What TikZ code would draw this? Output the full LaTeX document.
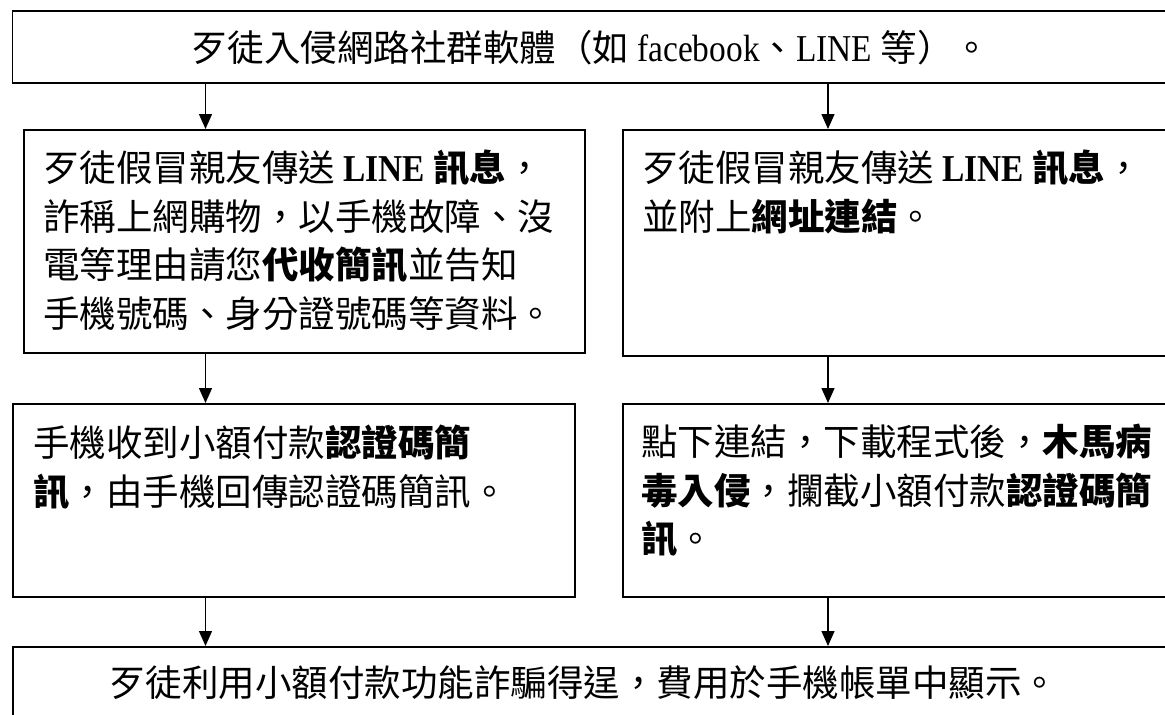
\documentclass[tikz,border=0pt]{standalone}
\usepackage{fontspec}
\setmainfont{Liberation Serif}[Scale=1.04,FakeStretch=0.88]
\newfontfamily\cjk{Noto Sans CJK TC}
\newcommand\lat[1]{{\rmfamily #1}}
\usetikzlibrary{arrows.meta}

\begin{document}
\begin{tikzpicture}[x=1pt,y=-1pt,
    box/.style={draw,line width=1.5pt,inner sep=0pt,anchor=north west},
    txt/.style={inner sep=0pt,anchor=base west,align=left,
      font=\cjk\fontsize{36.5}{48.5}\selectfont},
    arr/.style={line width=1.4pt,-{Triangle[width=13pt,length=15pt]}}]
      \useasboundingbox (0,0) rectangle (1165,715) ;
      \clip (0,0) rectangle (1165,715) ;
      \coordinate (lcol) at (205.5,0) ;
      \coordinate (rcol) at (828,0) ;
      % boxes
      \node[box,minimum width=1170,minimum height=72] (top) at (11.5,10) {} ;
      \node[box,minimum width=561,minimum height=223] (lmsg) at (23,129) {} ;
      \node[box,minimum width=560,minimum height=226] (rmsg) at (622,129) {} ;
      \node[box,minimum width=562,minimum height=193] (lcode) at (12,403) {} ;
      \node[box,minimum width=560,minimum height=193] (rtroj) at (622,403) {} ;
      \node[box,minimum width=1170,minimum height=100] (bill) at (12,646) {} ;
      % texts (anchored on the baseline of their last line)
      \node[txt] (top-t) at ([shift={(179.5,51.5)}]top.north west)
        {歹徒入侵網路社群軟體（如 \lat{facebook}、\lat{LINE} 等）。} ;
      \node[txt] (lmsg-t) at ([shift={(20,198)}]lmsg.north west)
        {歹徒假冒親友傳送 \textbf{\lat{LINE} 訊息}，\\
         詐稱上網購物，以手機故障、沒\\
         電等理由請您\textbf{代收簡訊}並告知\\
         手機號碼、身分證號碼等資料。} ;
      \node[txt] (rmsg-t) at ([shift={(20,101)}]rmsg.north west)
        {歹徒假冒親友傳送 \textbf{\lat{LINE} 訊息}，\\
         並附上\textbf{網址連結}。} ;
      \node[txt] (lcode-t) at ([shift={(21,102)}]lcode.north west)
        {手機收到小額付款\textbf{認證碼簡}\\
         \textbf{訊}，由手機回傳認證碼簡訊。} ;
      \node[txt] (rtroj-t) at ([shift={(19,149.5)}]rtroj.north west)
        {點下連結，下載程式後，\textbf{木馬病}\\
         \textbf{毒入侵}，攔截小額付款\textbf{認證碼簡}\\
         \textbf{訊}。} ;
      \node[txt] (bill-t) at ([shift={(97,50)}]bill.north west)
        {歹徒利用小額付款功能詐騙得逞，費用於手機帳單中顯示。} ;
      % arrows
      \draw[arr] (top.south -| lcol) -- (lmsg.north -| lcol) ;
      \draw[arr] (top.south -| rcol) -- (rmsg.north -| rcol) ;
      \draw[arr] (lmsg.south -| lcol) -- (lcode.north -| lcol) ;
      \draw[arr] (rmsg.south -| rcol) -- (rtroj.north -| rcol) ;
      \draw[arr] (lcode.south -| lcol) -- (bill.north -| lcol) ;
      \draw[arr] (rtroj.south -| rcol) -- (bill.north -| rcol) ;
    \end{tikzpicture}
\end{document}
